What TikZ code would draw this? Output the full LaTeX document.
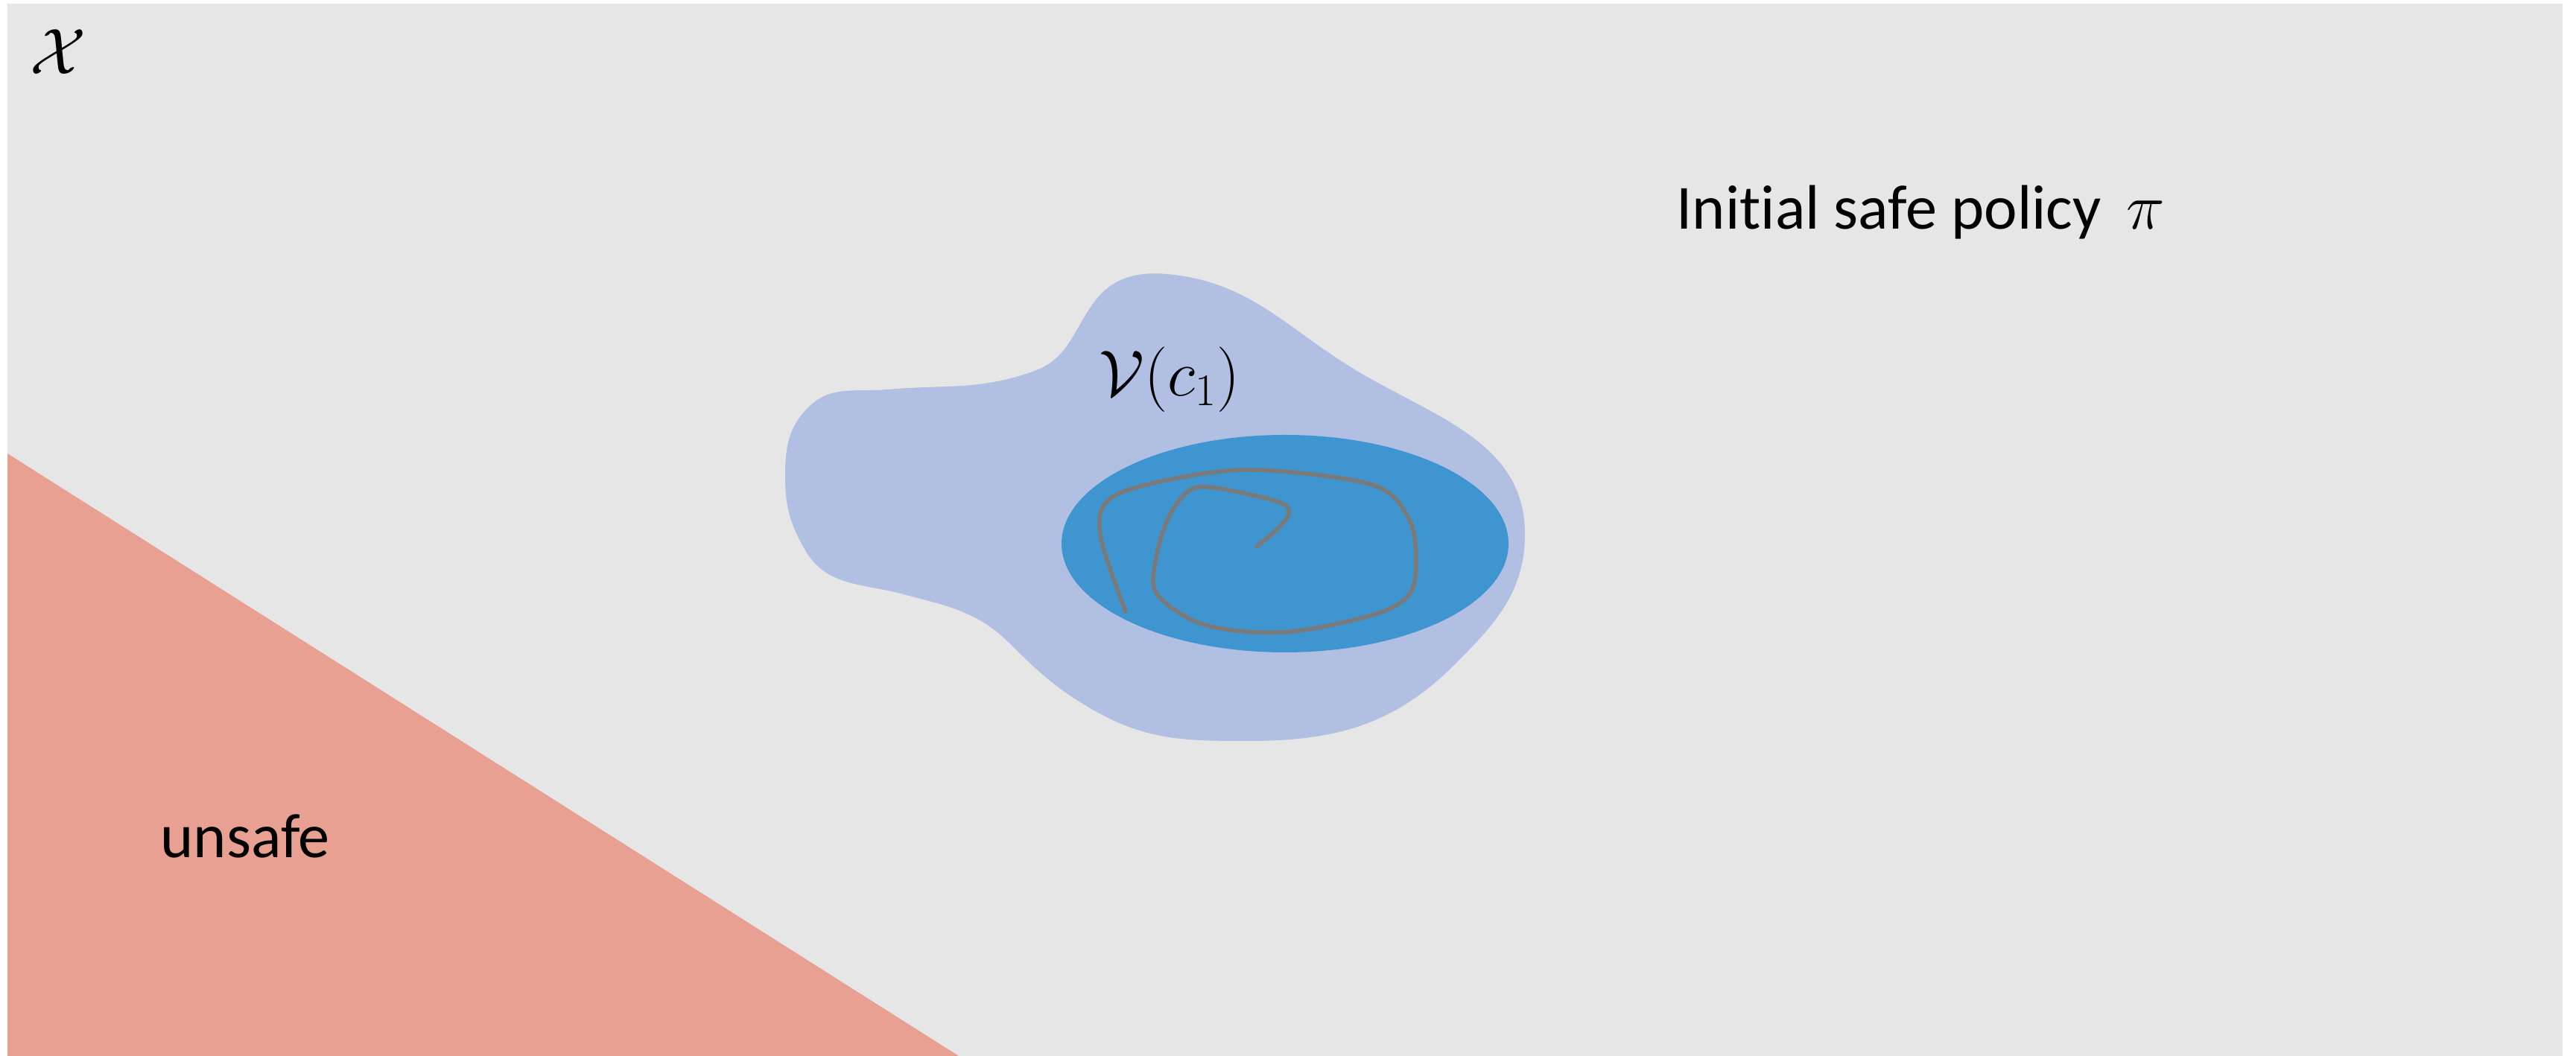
\documentclass[tikz,border=0pt]{standalone}
\usepackage[no-math]{fontspec}
\setmainfont{Carlito}[Ligatures=NoCommon]
\usepackage{amsmath}
\usepackage{xcolor}
\usepackage{tikz}
\usetikzlibrary{positioning}

\definecolor{spacegray}{RGB}{230,230,230}
\definecolor{unsafered}{RGB}{232,160,146}
\definecolor{regionblue}{RGB}{176,191,226}
\definecolor{setblue}{RGB}{63,149,208}
\definecolor{trajgray}{RGB}{122,122,122}

\begin{document}
\begin{tikzpicture}[
   lbl/.style={inner sep=0pt,font=\fontsize{24}{29}\selectfont},
   traj/.style={draw=trajgray,line width=1.6pt,line cap=round,line join=round}]
  \useasboundingbox (0,0) rectangle (34.58,14.18);
  % state space and unsafe set
  \fill[spacegray] (0.10,0) rectangle (34.40,14.13);
  \fill[unsafered] (0.10,8.09) -- (12.87,0) -- (0.10,0) -- cycle;
  % region of attraction
  \fill[regionblue] (15.66,10.50) to[out=-5,in=150] (18.30,9.15)
    to[out=-30,in=90] (20.47,7.01) to[out=-90,in=45] (19.52,5.25)
    to[out=225,in=0] (16.76,4.23) to[out=180,in=-30] (14.67,4.65)
    to[out=150,in=-45] (13.56,5.535) to[out=135,in=-15] (12.13,6.20)
    to[out=165,in=-60] (10.81,6.79) to[out=120,in=-90] (10.54,7.78)
    to[out=90,in=225] (10.85,8.71) to[out=45,in=185] (11.91,8.95)
    to[out=5,in=200] (13.89,9.20) to[out=20,in=235] (14.67,10.10)
    to[out=55,in=175] cycle;
  \fill[setblue] (17.25,6.88) ellipse [x radius=3.00,y radius=1.46];
  % trajectory
  \draw[traj] plot[smooth,tension=0.55] coordinates {
    (15.11,5.97) (14.77,7.00) (14.91,7.49) (15.75,7.75) (16.87,7.87)
    (18.42,7.67) (18.91,7.22) (19.01,6.64) (18.91,6.19) (18.42,5.92)
    (17.23,5.69) (16.17,5.79) (15.54,6.19) (15.51,6.64) (15.68,7.22)
    (15.96,7.59) (16.31,7.63) (17.16,7.44) (17.30,7.29) (17.16,7.09)
    (16.87,6.84)};
  % labels
  \node[lbl] (space) at (0.78,13.48) {$\mathcal{X}$};
  \node[lbl] (roa) at (15.70,9.08) {$\mathcal{V}(c_1)$};
  \node[lbl,anchor=base west] (policy) at (22.50,11.10) {Initial safe policy\, $\pi$};
  \node[lbl,anchor=base west] (unsafe) at (2.15,2.66) {unsafe};
\end{tikzpicture}
\end{document}
